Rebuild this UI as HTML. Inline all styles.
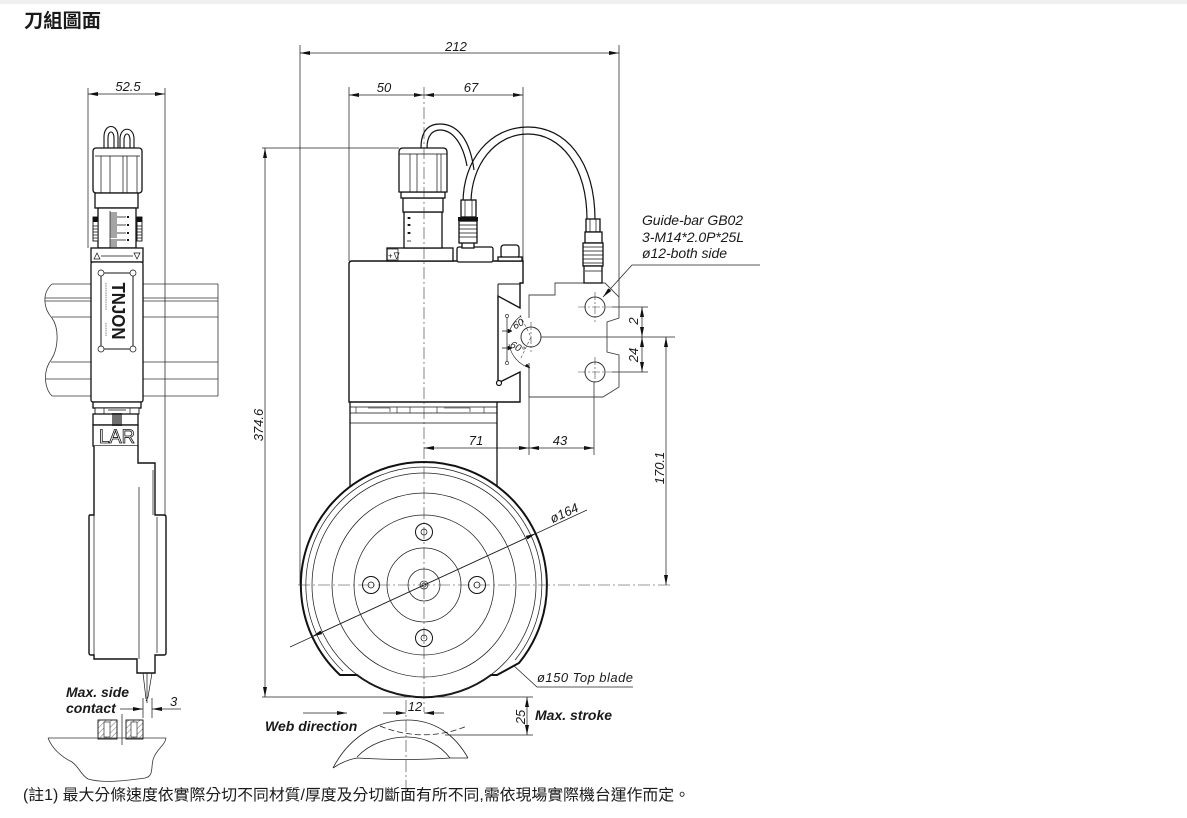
<!DOCTYPE html>
<html><head><meta charset="utf-8">
<style>
html,body{margin:0;padding:0;background:#fff;}
svg{display:block;}
text{font-family:"Liberation Sans","Noto Sans CJK TC",sans-serif;fill:#1a1a1a;}
.d{font-size:13px;font-style:italic;}
.b{font-size:14px;font-style:italic;font-weight:bold;}
</style></head><body>
<svg width="1187" height="818" viewBox="0 0 1187 818" xmlns="http://www.w3.org/2000/svg">
<defs>
<marker id="ar" viewBox="0 0 10 4" refX="10" refY="2" markerWidth="10" markerHeight="4" markerUnits="userSpaceOnUse" orient="auto-start-reverse"><path d="M0,0 L10,2 L0,4 Z" fill="#111"/></marker>
<pattern id="h" width="4" height="4" patternUnits="userSpaceOnUse" patternTransform="rotate(45)"><line x1="0" y1="0" x2="0" y2="4" stroke="#333" stroke-width="0.7"/></pattern>
</defs>
<rect width="1187" height="818" fill="#fff"/>
<rect width="1187" height="4" fill="#f0f0f0"/>
<text x="24" y="27" font-size="19" font-weight="bold" textLength="77" lengthAdjust="spacingAndGlyphs">刀組圖面</text>

<!-- ========== LEFT VIEW ========== -->
<g fill="none" stroke="#333" stroke-width="0.8">
 <path d="M52,284 L218,284 M45,298 L218,298 M45,301 L218,301 M52,317 L218,317 M51,362 L218,362 M46,379 L218,379 M52,396 L218,396 M218,284 L218,396"/>
 <path d="M52,284 C42,293 43,308 52,318 C59,328 59,348 51,360 C43,371 44,388 52,396"/>
</g>
<g stroke="#222" stroke-width="0.75" fill="none">
 <line x1="88" y1="88" x2="88" y2="248"/>
 <line x1="165" y1="88" x2="165" y2="515"/>
 <line x1="88" y1="94" x2="165" y2="94" marker-start="url(#ar)" marker-end="url(#ar)"/>
</g>
<text class="d" x="128" y="91" text-anchor="middle">52.5</text>

<!-- cables left -->
<g fill="none" stroke="#111" stroke-width="1.1">
 <path d="M104,150 L104,137 C104,123 118,123 118,137 L118,150"/>
 <path d="M108,150 L108,138 C108,130 114,130 114,138 L114,150"/>
 <path d="M120,150 L120,139 C120,126 134,126 134,139 L134,150"/>
 <path d="M124,150 L124,140 C124,132 130,132 130,140 L130,150"/>
</g>
<g stroke="#111" fill="#fff" stroke-width="1.3">
 <rect x="93" y="148" width="49" height="45" rx="3"/>
 <rect x="95" y="193" width="43" height="15"/>
 <rect x="98" y="208" width="38" height="40"/>
 <rect x="93" y="217" width="5" height="24" stroke-width="0.9"/>
 <rect x="137" y="217" width="5" height="24" stroke-width="0.9"/>
</g>
<g stroke="#111" stroke-width="0.7" fill="none">
 <path d="M95,156 L140,156 M101,156 L101,193 M110,156 L110,193 M123,156 L123,193 M127,156 L127,193 M137,156 L137,193"/>
 <path d="M93,226 L98,226 M93,229 L98,229 M93,232 L98,232 M93,235 L98,235 M93,238 L98,238 M137,226 L142,226 M137,229 L142,229 M137,232 L142,232 M137,235 L142,235 M137,238 L142,238"/>
 <path d="M110,211 L110,248 M110,213 L117,213 M110,215 L117,215 M110,217 L126,217 M110,219 L117,219 M110,221 L117,221 M110,223 L117,223 M110,225 L126,225 M110,227 L117,227 M110,229 L117,229 M110,231 L117,231 M110,233 L126,233 M110,235 L117,235 M110,237 L117,237 M110,240 L126,240 M110,242 L117,242 M110,244 L117,244 M110,246 L117,246"/>
</g>
<rect x="93" y="217" width="5" height="5" fill="#111"/>
<rect x="137" y="217" width="5" height="5" fill="#111"/>
<g fill="#111"><rect x="127" y="216" width="2" height="2"/><rect x="127" y="224" width="2" height="2"/><rect x="127" y="232" width="2" height="2"/><rect x="127" y="239" width="2" height="2"/></g>
<g stroke="#111" fill="#fff" stroke-width="1.3">
 <rect x="91" y="248" width="52" height="14"/>
 <rect x="91" y="262" width="52" height="140" rx="2"/>
 <rect x="93" y="402" width="48" height="6"/>
 <rect x="95" y="408" width="44" height="6" stroke-width="0.9"/>
 <rect x="93" y="414" width="45" height="11"/>
 <rect x="93" y="425" width="45" height="21"/>
</g>
<g stroke="#111" stroke-width="0.7" fill="none">
 <path d="M94,259 L97,253 L100,259 Z M134,253 L140,253 L137,259 Z M101,256 L133,256"/>
 <rect x="101" y="273" width="32" height="76" rx="2" stroke-width="1"/>
 <circle cx="101" cy="273" r="3" fill="#fff"/><circle cx="133" cy="273" r="3" fill="#fff"/>
 <circle cx="101" cy="349" r="3" fill="#fff"/><circle cx="133" cy="349" r="3" fill="#fff"/>
 <path d="M104,408 L104,414 M130,408 L130,414 M108,410 L126,410"/>
</g>
<g stroke="#111" stroke-width="1.2"><path d="M113,413 L113,426 M115,413 L115,426 M117,413 L117,426 M119,413 L119,426 M121,413 L121,426"/></g>
<path d="M106,283 L106,310 M106,323 L106,336" stroke="#999" stroke-width="1.2" stroke-dasharray="1.5,0.8"/>
<text transform="translate(112,311) rotate(90)" text-anchor="middle" font-size="18" font-weight="bold" textLength="57" lengthAdjust="spacingAndGlyphs">TNJON</text>
<text x="117" y="443" text-anchor="middle" font-size="19" textLength="36" lengthAdjust="spacingAndGlyphs" style="fill:#fff;stroke:#111;stroke-width:0.8">LAR</text>
<!-- blade guard -->
<path d="M94,446 L94,515 L90,515 Q89,515 89,517 L89,653 Q89,655 91,655 L94,655 L94,659 L137,659 L137,673 L155,673 L155,655 L164,655 Q166,655 166,653 L166,517 Q166,515 164,515 L155,515 L155,463 L138,463 L138,446" fill="#fff" stroke="#111" stroke-width="1.4"/>
<g stroke="#111" stroke-width="0.7" fill="none">
 <path d="M94,515 L94,655 M139,487 L139,659 M157,517 L157,653 M153,470 L153,515"/>
 <path d="M143,673 L146,699 M147,673 L147,703 M152,673 L148,697 L146,701"/>
</g>
<text class="b" x="66" y="697">Max. side</text>
<text class="b" x="66" y="713">contact</text>
<g stroke="#222" stroke-width="0.75" fill="none">
 <line x1="143" y1="698" x2="143" y2="718"/>
 <line x1="152" y1="698" x2="152" y2="718"/>
 <line x1="120" y1="709" x2="143" y2="709" marker-end="url(#ar)"/>
 <line x1="181" y1="709" x2="152" y2="709" marker-end="url(#ar)"/>
 <line x1="122" y1="714" x2="122" y2="745"/>
</g>
<text class="d" x="170" y="706">3</text>
<g stroke="#111" stroke-width="0.9">
 <rect x="98" y="720" width="19" height="19" fill="url(#h)"/>
 <rect x="126" y="720" width="17" height="19" fill="url(#h)"/>
 <rect x="104" y="722" width="6" height="15" fill="#fff" stroke-width="0.6"/>
 <rect x="131" y="722" width="6" height="15" fill="#fff" stroke-width="0.6"/>
</g>
<path d="M48,738 L166,738 M48,738 C52,748 60,756 72,762 C80,768 80,774 88,779 C105,784 130,780 145,778 C155,776 150,765 154,757 C158,748 165,745 166,738" fill="none" stroke="#333" stroke-width="0.8"/>

<!-- ========== MAIN VIEW ========== -->
<g stroke="#222" stroke-width="0.75" fill="none">
 <line x1="300" y1="45" x2="300" y2="585"/>
 <line x1="619" y1="45" x2="619" y2="297"/>
 <line x1="300" y1="53" x2="619" y2="53" marker-start="url(#ar)" marker-end="url(#ar)"/>
 <line x1="349" y1="87" x2="349" y2="261"/>
 <line x1="523" y1="87" x2="523" y2="261"/>
 <line x1="349" y1="95" x2="424" y2="95" marker-start="url(#ar)" marker-end="url(#ar)"/>
 <line x1="424" y1="95" x2="523" y2="95" marker-start="url(#ar)" marker-end="url(#ar)"/>
 <line x1="262" y1="148" x2="399" y2="148"/>
 <line x1="262" y1="697" x2="533" y2="697"/>
 <line x1="265" y1="148" x2="265" y2="697" marker-start="url(#ar)" marker-end="url(#ar)"/>
 <line x1="529" y1="363" x2="529" y2="455"/>
 <line x1="594" y1="382" x2="594" y2="455"/>
 <line x1="424" y1="448" x2="529" y2="448" marker-start="url(#ar)" marker-end="url(#ar)"/>
 <line x1="529" y1="448" x2="594" y2="448" marker-start="url(#ar)" marker-end="url(#ar)"/>
 <line x1="612" y1="307" x2="648" y2="307"/>
 <line x1="541" y1="337" x2="675" y2="337"/>
 <line x1="612" y1="372" x2="648" y2="372"/>
 <line x1="642" y1="307" x2="642" y2="337" marker-start="url(#ar)" marker-end="url(#ar)"/>
 <line x1="642" y1="337" x2="642" y2="372" marker-start="url(#ar)" marker-end="url(#ar)"/>
 <line x1="666" y1="337" x2="666" y2="585" marker-start="url(#ar)" marker-end="url(#ar)"/>
 <polyline points="760,265 632,265 603,297" marker-end="url(#ar)"/>
</g>
<text class="d" x="456" y="51" text-anchor="middle">212</text>
<text class="d" x="384" y="92" text-anchor="middle">50</text>
<text class="d" x="471" y="92" text-anchor="middle">67</text>
<text class="d" transform="translate(263,425) rotate(-90)" text-anchor="middle">374.6</text>
<text class="d" x="476" y="445" text-anchor="middle">71</text>
<text class="d" x="560" y="445" text-anchor="middle">43</text>
<text class="d" transform="translate(638,321) rotate(-90)" text-anchor="middle">2</text>
<text class="d" transform="translate(638,355) rotate(-90)" text-anchor="middle">24</text>
<text class="d" transform="translate(664,468) rotate(-90)" text-anchor="middle">170.1</text>
<text x="642" y="225" font-size="14" font-style="italic" textLength="101">Guide-bar GB02</text>
<text x="642" y="242" font-size="14" font-style="italic" textLength="102">3-M14*2.0P*25L</text>
<text x="642" y="258" font-size="14" font-style="italic" textLength="85">ø12-both side</text>

<!-- guide block -->
<path d="M529,318 L529,295 L555,295 L555,283 L605,283 L619,297 L619,318 L607,322 L607,352 L619,355 L619,387 L603,397 L529,397 L529,363" fill="none" stroke="#444" stroke-width="0.9"/>
<g fill="#fff" stroke="#333" stroke-width="1">
 <circle cx="595" cy="307" r="10"/>
 <circle cx="595" cy="372" r="10"/>
 <circle cx="531" cy="337" r="10"/>
</g>
<g stroke="#444" stroke-width="0.6" fill="none" stroke-dasharray="8,2,2,2">
 <path d="M578,307 L612,307 M595,292 L595,322 M578,372 L612,372 M595,357 L595,382 M531,322 L531,352"/>
</g>

<!-- lower housing -->
<g stroke="#111" fill="none">
 <path d="M350,402 L350,490 M497,402 L497,490" stroke-width="1.3"/>
 <path d="M350,407 L497,407 M350,413 L497,413 M350,423 L497,423" stroke-width="0.7"/>
 <path d="M356,407 L356,413 M368,408 L390,408 L390,412 M397,407 L397,413 M410,407 L410,413 M437,407 L437,413 M444,408 L470,408 L470,412 M484,407 L484,413" stroke-width="0.6"/>
</g>

<!-- wheel -->
<path d="M340,675 A123,123 0 1 1 519,663 L497,675 L491,675 A112,112 0 0 1 357,675 Z" fill="#fff" stroke="#111" stroke-width="2"/>
<g fill="none" stroke="#222" stroke-width="0.75">
 <path d="M343,671 A118,118 0 1 1 515,660"/>
 <circle cx="424" cy="585" r="112"/>
 <circle cx="424" cy="585" r="92"/>
 <circle cx="424" cy="585" r="70"/>
 <circle cx="424" cy="585" r="37"/>
 <circle cx="424" cy="585" r="16"/>
 <circle cx="424" cy="585" r="4"/>
 <circle cx="424" cy="585" r="2"/>
</g>
<g fill="#fff" stroke="#111" stroke-width="1">
 <circle cx="424" cy="532" r="8.5"/><circle cx="371" cy="585" r="8.5"/><circle cx="477" cy="585" r="8.5"/><circle cx="424" cy="638" r="8.5"/>
 <circle cx="424" cy="532" r="3" stroke-width="0.7"/><circle cx="371" cy="585" r="3" stroke-width="0.7"/><circle cx="477" cy="585" r="3" stroke-width="0.7"/><circle cx="424" cy="638" r="3" stroke-width="0.7"/>
</g>
<g stroke="#222" stroke-width="0.75" fill="none">
 <line x1="290" y1="647" x2="587" y2="510"/>
 <line x1="424" y1="585" x2="535.7" y2="533.5" marker-end="url(#ar)"/>
 <line x1="424" y1="585" x2="312.3" y2="636.5" marker-end="url(#ar)"/>
 <polyline points="513,665 537,687 633,687"/>
</g>
<text class="d" transform="translate(566,517) rotate(-24.8)" text-anchor="middle">ø164</text>
<text class="d" x="537" y="682" textLength="96">ø150 Top blade</text>

<!-- body -->
<path d="M349,264 Q349,261 352,261 L523,261 L523,283 L520,283 L520,308 L498,296 L498,383 L520,372 L520,402 L349,402 Z" fill="#fff" stroke="#111" stroke-width="1.4"/>
<g stroke="#111" fill="none">
 <path d="M498,284 L520,284 M498,284 L498,296" stroke-width="1"/>
 <path d="M507,316 L507,363" stroke-width="0.7"/>
 <circle cx="507" cy="316" r="1.6" fill="#fff" stroke-width="0.6"/>
 <circle cx="507" cy="363" r="1.6" fill="#fff" stroke-width="0.6"/>
 <circle cx="499" cy="383" r="2.5" fill="#fff" stroke-width="1.2"/>
 <path d="M502,331 L512,331 M502,348 L512,348" stroke-width="0.7"/>
 <path d="M508,329 L512,331 L508,333 Z M508,346 L512,348 L508,350 Z" fill="#111" stroke-width="0.5"/>
 <path d="M509,333 A30,30 0 0 1 521,316 M509,344 A30,30 0 0 0 530,368" stroke-width="0.6"/>
 <path d="M520,315 L531,337 L520,360" stroke-width="0.5" stroke-dasharray="3,2"/>
 <path d="M527,364 L530,368 L525,366 Z" fill="#111" stroke-width="0.5"/>
</g>
<text x="513" y="328" font-size="10" font-style="italic" transform="rotate(-28,517,325)">60</text>
<text x="511" y="350" font-size="10" font-style="italic" transform="rotate(28,517,345)">60°</text>

<!-- cables main -->
<g fill="none" stroke="#111" stroke-width="1.2">
 <path d="M421,148 C421,128 431,124 440,124 C458,124 470,140 474,170"/>
 <path d="M427,148 C427,135 433,130 440,130 C453,130 463,144 467,166"/>
 <path d="M463,203 C463,160 490,127 528,127 C565,127 595,160 595,220"/>
 <path d="M471,203 C471,165 495,134 528,134 C560,134 587,165 587,220"/>
</g>
<!-- flange / knob -->
<g stroke="#111" fill="#fff" stroke-width="1.3">
 <rect x="387" y="248" width="66" height="13"/>
 <rect x="404" y="212" width="38" height="36"/>
 <rect x="403" y="198" width="40" height="14"/>
 <rect x="401" y="192" width="44" height="6"/>
 <path d="M399,192 L399,152 Q399,148 403,148 L443,148 Q447,148 447,152 L447,192 Z"/>
 <rect x="457" y="247" width="36" height="15" rx="2"/>
 <rect x="462" y="242" width="12" height="6"/>
 <rect x="459" y="221" width="18" height="22"/>
 <rect x="461" y="200" width="15" height="17"/>
 <rect x="501" y="245" width="18" height="13" rx="3"/>
 <rect x="498" y="257" width="24" height="4"/>
 <rect x="586" y="219" width="14" height="13"/>
 <rect x="585" y="232" width="17" height="11"/>
 <rect x="583" y="243" width="20" height="23"/>
 <rect x="584" y="266" width="18" height="17"/>
</g>
<rect x="458" y="217" width="20" height="4" fill="#111"/>
<g stroke="#111" stroke-width="0.7" fill="none">
 <path d="M399,154 L447,154 M410,154 L410,192 M417,154 L417,192 M437,154 L437,192 M441,154 L441,192"/>
 <path d="M407,218 L411,218 M407,225 L411,225 M407,233 L411,233 M407,241 L411,241"/>
 <path d="M465,200 L465,217 M472,200 L472,217"/>
 <path d="M459,225 L477,225 M459,229 L477,229 M459,233 L477,233 M459,237 L477,237"/>
 <path d="M583,247 L603,247 M583,251 L603,251 M583,255 L603,255 M583,259 L603,259 M583,263 L603,263 M590,219 L590,232 M596,219 L596,232 M585,271 L602,271"/>
 <rect x="387" y="249" width="11" height="11"/>
</g>
<text x="388" y="258.5" font-size="8" font-family="DejaVu Sans">+∇</text>
<g fill="#111"><rect x="408" y="217" width="2" height="2"/><rect x="408" y="224" width="2" height="2"/><rect x="408" y="232" width="2" height="2"/></g>

<!-- centerlines -->
<g stroke="#333" stroke-width="0.6" fill="none" stroke-dasharray="12,3,2,3">
 <line x1="424" y1="87" x2="424" y2="712"/>
 <line x1="298" y1="585" x2="672" y2="585"/>
 <line x1="406" y1="700" x2="406" y2="800"/>
</g>

<!-- bottom dims main -->
<g stroke="#222" stroke-width="0.75" fill="none">
 <line x1="383" y1="713" x2="406" y2="713" marker-end="url(#ar)"/>
 <line x1="444" y1="713" x2="424" y2="713" marker-end="url(#ar)"/>
 <line x1="445" y1="735" x2="533" y2="735"/>
 <line x1="527" y1="697" x2="527" y2="735" marker-start="url(#ar)" marker-end="url(#ar)"/>
 <line x1="303" y1="713" x2="347" y2="713" marker-end="url(#ar)"/>
 <path d="M380,726 A112,112 0 0 0 467,726" stroke-dasharray="6,3"/>
</g>
<text class="d" x="415" y="711" text-anchor="middle">12</text>
<text class="d" transform="translate(525,717) rotate(-90)" text-anchor="middle">25</text>
<text class="b" x="535" y="720">Max. stroke</text>
<text class="b" x="265" y="731">Web direction</text>
<g stroke="#222" stroke-width="0.8" fill="none">
 <path d="M333,768 C350,735 380,720 407,720 C435,720 455,735 468,758"/>
 <path d="M357,757 C370,743 390,737 407,737 C425,737 440,745 450,758"/>
 <path d="M333,768 Q345,760 357,758 C390,760 420,760 450,758 Q460,758 468,758"/>
</g>

<text x="23" y="800" font-size="15.5" textLength="667" lengthAdjust="spacingAndGlyphs">(註1) 最大分條速度依實際分切不同材質/厚度及分切斷面有所不同,需依現場實際機台運作而定。</text>
</svg>
</body></html>
